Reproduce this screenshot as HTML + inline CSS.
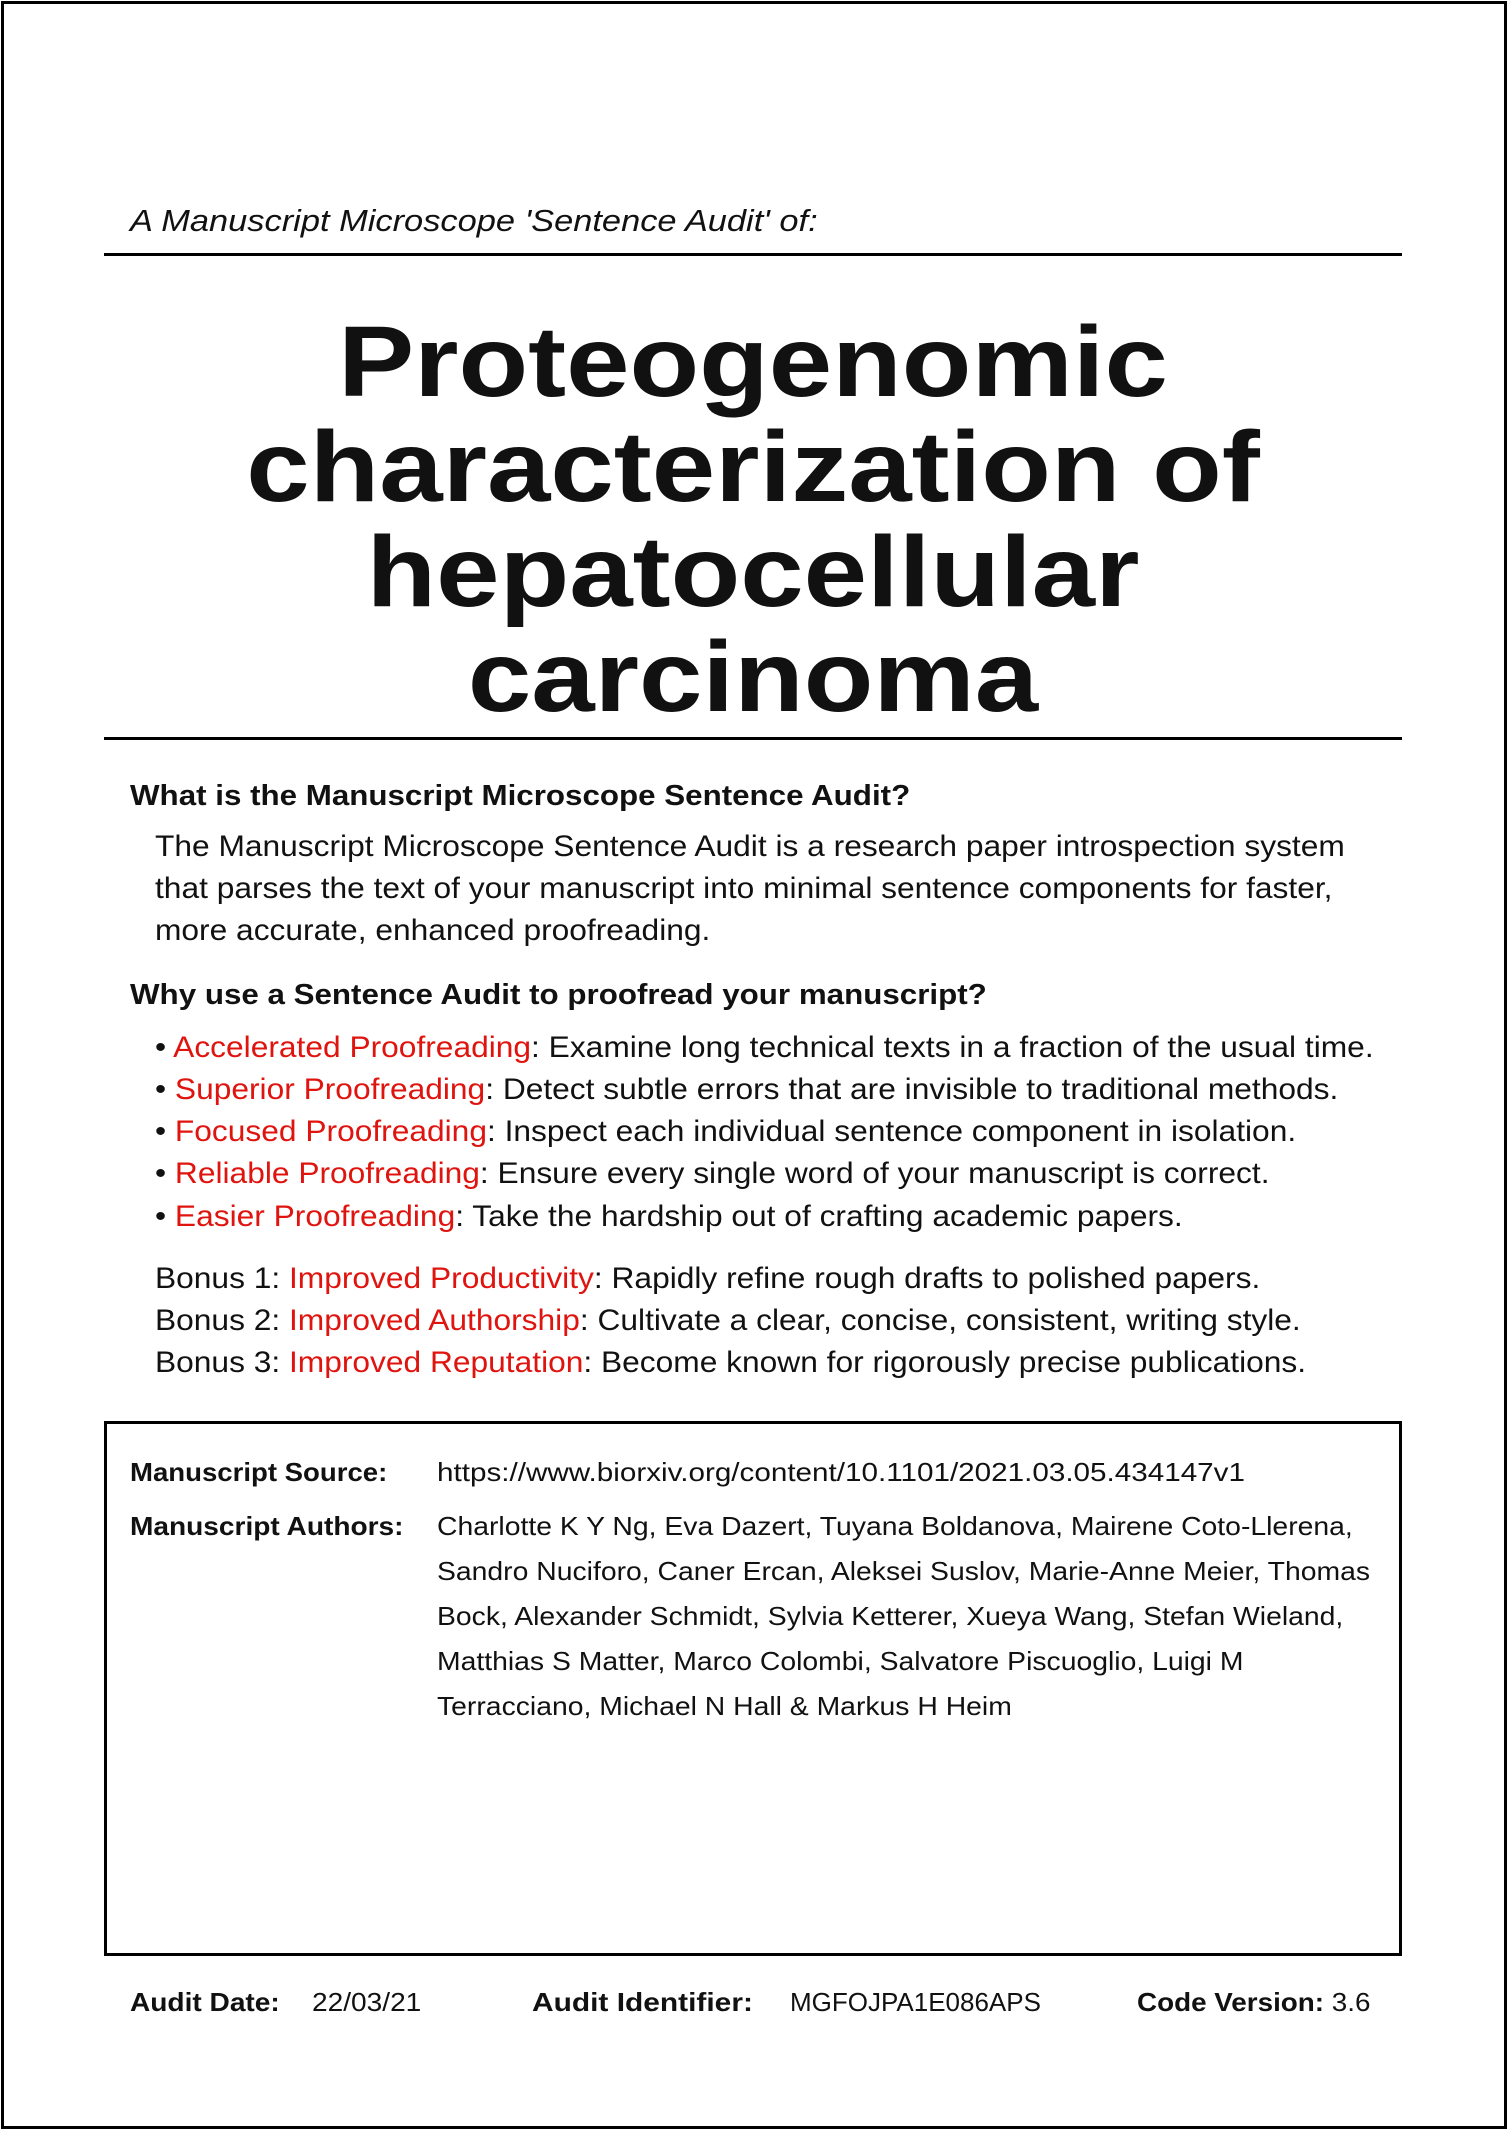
<!DOCTYPE html>
<html><head><meta charset="utf-8"><style>
body{margin:0;width:1508px;height:2130px;background:#fff;position:relative;font-family:"Liberation Sans",sans-serif;color:#111;overflow:hidden}
.a{position:absolute;white-space:nowrap;transform-origin:0 0}
.r{color:#e0140f}
.b{font-weight:bold}
.t{transform:scaleX(1.075)}
</style></head><body>
<div style="position:absolute;left:1px;top:1px;width:1500px;height:2122px;border:3px solid #000"></div>
<div class="a" style="left:130px;top:205px;font-size:31px;line-height:31px;font-style:italic;transform:scaleX(1.11)">A Manuscript Microscope 'Sentence Audit' of:</div>
<div style="position:absolute;left:104px;top:253px;width:1298px;height:3px;background:#000"></div>
<div style="position:absolute;left:104px;width:1298px;top:310px;text-align:center;font-weight:bold;font-size:100px;line-height:105px;transform:scaleX(1.14);transform-origin:center top">Proteogenomic<br>characterization of<br>hepatocellular<br>carcinoma</div>
<div style="position:absolute;left:104px;top:737px;width:1298px;height:3px;background:#000"></div>

<div class="a b" style="left:130px;top:782px;font-size:29px;line-height:29px;transform:scaleX(1.08)">What is the Manuscript Microscope Sentence Audit?</div>
<div class="a t" style="left:155px;top:832px;font-size:29.5px;line-height:29px">The Manuscript Microscope Sentence Audit is a research paper introspection system</div>
<div class="a t" style="left:155px;top:874px;font-size:29.5px;line-height:29px">that parses the text of your manuscript into minimal sentence components for faster,</div>
<div class="a t" style="left:155px;top:916px;font-size:29.5px;line-height:29px">more accurate, enhanced proofreading.</div>

<div class="a b" style="left:130px;top:981px;font-size:29px;line-height:29px;transform:scaleX(1.08)">Why use a Sentence Audit to proofread your manuscript?</div>
<div class="a t" style="left:155px;top:1033px;font-size:29.5px;line-height:29px">• <span class="r">Accelerated Proofreading</span>: Examine long technical texts in a fraction of the usual time.</div>
<div class="a t" style="left:155px;top:1075px;font-size:29.5px;line-height:29px">• <span class="r">Superior Proofreading</span>: Detect subtle errors that are invisible to traditional methods.</div>
<div class="a t" style="left:155px;top:1117px;font-size:29.5px;line-height:29px">• <span class="r">Focused Proofreading</span>: Inspect each individual sentence component in isolation.</div>
<div class="a t" style="left:155px;top:1159px;font-size:29.5px;line-height:29px">• <span class="r">Reliable Proofreading</span>: Ensure every single word of your manuscript is correct.</div>
<div class="a t" style="left:155px;top:1202px;font-size:29.5px;line-height:29px">• <span class="r">Easier Proofreading</span>: Take the hardship out of crafting academic papers.</div>
<div class="a t" style="left:155px;top:1264px;font-size:29.5px;line-height:29px">Bonus 1: <span class="r">Improved Productivity</span>: Rapidly refine rough drafts to polished papers.</div>
<div class="a t" style="left:155px;top:1306px;font-size:29.5px;line-height:29px">Bonus 2: <span class="r">Improved Authorship</span>: Cultivate a clear, concise, consistent, writing style.</div>
<div class="a t" style="left:155px;top:1348px;font-size:29.5px;line-height:29px">Bonus 3: <span class="r">Improved Reputation</span>: Become known for rigorously precise publications.</div>

<div style="position:absolute;left:104px;top:1421px;width:1292px;height:529px;border:3px solid #000"></div>
<div class="a b" style="left:130px;top:1459px;font-size:26px;line-height:26px;transform:scaleX(1.06)">Manuscript Source:</div>
<div class="a" style="left:437px;top:1459px;font-size:26px;line-height:26px;transform:scaleX(1.14)">https://www.biorxiv.org/content/10.1101/2021.03.05.434147v1</div>
<div class="a b" style="left:130px;top:1513px;font-size:26px;line-height:26px;transform:scaleX(1.08)">Manuscript Authors:</div>
<div class="a" style="left:437px;top:1504px;font-size:26px;line-height:45px;transform:scaleX(1.09)">Charlotte K Y Ng, Eva Dazert, Tuyana Boldanova, Mairene Coto-Llerena,<br>Sandro Nuciforo, Caner Ercan, Aleksei Suslov, Marie-Anne Meier, Thomas<br>Bock, Alexander Schmidt, Sylvia Ketterer, Xueya Wang, Stefan Wieland,<br>Matthias S Matter, Marco Colombi, Salvatore Piscuoglio, Luigi M<br>Terracciano, Michael N Hall &amp; Markus H Heim</div>

<div class="a b" style="left:130px;top:1989px;font-size:26px;line-height:26px;transform:scaleX(1.08)">Audit Date:</div>
<div class="a" style="left:312px;top:1989px;font-size:26px;line-height:26px;transform:scaleX(1.08)">22/03/21</div>
<div class="a b" style="left:532px;top:1989px;font-size:26px;line-height:26px;transform:scaleX(1.15)">Audit Identifier:</div>
<div class="a" style="left:790px;top:1989px;font-size:26px;line-height:26px">MGFOJPA1E086APS</div>
<div class="a" style="left:1137px;top:1989px;font-size:26px;line-height:26px;transform:scaleX(1.07)"><span class="b">Code Version:</span> 3.6</div>
</body></html>
